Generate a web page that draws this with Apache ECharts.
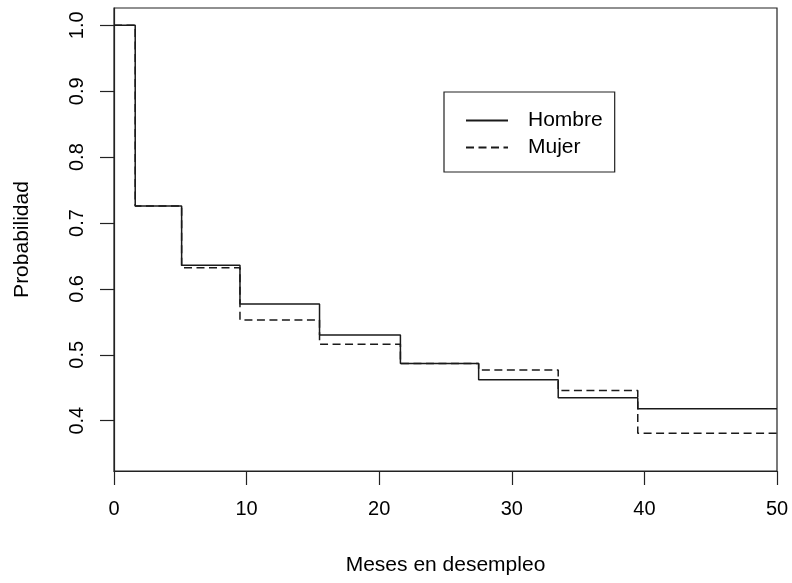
<!DOCTYPE html>
<html>
<head>
<meta charset="utf-8">
<script src="https://cdn.jsdelivr.net/npm/echarts@6/dist/echarts.min.js"></script>
<style>html,body{margin:0;padding:0;background:#fff}#c{width:792px;height:583px}</style>
</head>
<body>
<div id="c"></div>
<script>
// Data (step survival curves)
var times   = [0, 1.6, 5.1, 9.5, 15.5, 21.6, 27.5, 33.5, 39.5, 50];
var hombre  = [1.0, 0.726, 0.636, 0.577, 0.530, 0.487, 0.462, 0.435, 0.418, 0.418];
var mujer   = [1.0, 0.726, 0.632, 0.553, 0.516, 0.487, 0.477, 0.446, 0.381, 0.381];
var seriesNames = ['Hombre', 'Mujer'];
var yTicks = [0.4, 0.5, 0.6, 0.7, 0.8, 0.9, 1.0];
var xTicks = [0, 10, 20, 30, 40, 50];
var xTitle = 'Meses en desempleo';
var yTitle = 'Probabilidad';

function pairs(xs, ys) { return xs.map(function (x, i) { return [x, ys[i]]; }); }

var FONT = 'Liberation Sans, Arial, sans-serif';
var chart = echarts.init(document.getElementById('c'), null, {renderer: 'canvas'});
chart.setOption({
  animation: false,
  backgroundColor: '#fff',
  textStyle: {fontFamily: FONT, color: '#000'},
  grid: {left: 114, right: 15, top: 8, bottom: 112, show: true, borderColor: '#222', borderWidth: 1.2, backgroundColor: 'transparent'},
  legend: {
    data: seriesNames, orient: 'vertical', left: 444, top: 92,
    padding: [18, 12, 14, 21], itemGap: 6, itemWidth: 42, itemHeight: 21,
    borderColor: '#222', borderWidth: 1.2, backgroundColor: '#fff',
    itemStyle: {opacity: 0},
    textStyle: {fontFamily: FONT, fontSize: 21, color: '#000', lineHeight: 21, padding: [0, 0, 0, 15]},
    selectedMode: false
  },
  xAxis: {
    type: 'value', min: 0, max: 50, interval: 10,
    name: xTitle, nameLocation: 'middle', nameGap: 84,
    nameTextStyle: {fontFamily: FONT, fontSize: 21, color: '#000'},
    axisLine: {show: true, lineStyle: {color: '#222', width: 1.2}},
    axisTick: {show: true, length: 14, lineStyle: {color: '#222', width: 1.2}},
    axisLabel: {fontFamily: FONT, fontSize: 20, color: '#000', margin: 28,
      formatter: function (v) { return xTicks.indexOf(v) >= 0 ? String(v) : ''; }},
    splitLine: {show: false}
  },
  yAxis: {
    type: 'value', min: 0.3237, max: 1.0263,
    name: yTitle, nameLocation: 'middle', nameGap: 81, nameRotate: 90,
    nameTextStyle: {fontFamily: FONT, fontSize: 21, color: '#000'},
    axisLine: {show: true, lineStyle: {color: '#222', width: 1.2}},
    axisTick: {show: true, length: 14, customValues: yTicks, lineStyle: {color: '#222', width: 1.2}},
    axisLabel: {fontFamily: FONT, fontSize: 20, color: '#000', margin: 27, rotate: 90,
      customValues: yTicks, formatter: function (v) { return v.toFixed(1); }},
    splitLine: {show: false}
  },
  series: [
    {name: seriesNames[0], type: 'line', step: 'end', symbol: 'none', data: pairs(times, hombre),
      lineStyle: {color: '#1a1a1a', width: 1.5, type: 'solid'}, itemStyle: {color: '#1a1a1a'}},
    {name: seriesNames[1], type: 'line', step: 'end', symbol: 'none', data: pairs(times, mujer),
      lineStyle: {color: '#1a1a1a', width: 1.5, type: [8, 4.5]}, itemStyle: {color: '#1a1a1a'}}
  ]
});
</script>
</body>
</html>
